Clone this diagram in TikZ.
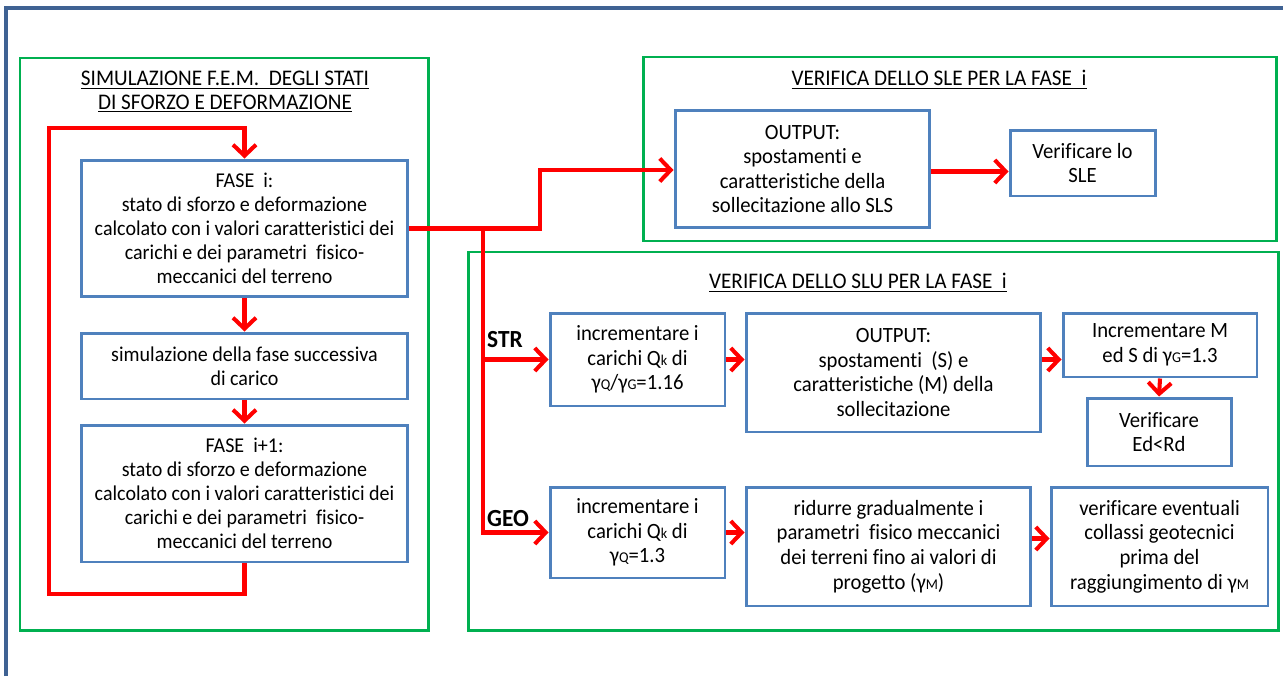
\documentclass[tikz,border=0pt]{standalone}
\usepackage{fontspec}
\setmainfont{Carlito}[FakeStretch=0.95, Ligatures=NoCommon]
\usetikzlibrary{arrows.meta,calc}
\definecolor{frameblue}{HTML}{3F6293}
\definecolor{boxblue}{HTML}{4F81BD}
\definecolor{framegreen}{HTML}{00B050}
\tikzset{
	box/.style={draw=boxblue, line width=1.7pt, align=center, inner sep=2pt, font=\fontsize{12}{13.6}\selectfont},
	rbox/.style={box, font=\fontsize{12.4}{14}\selectfont},
	frame/.style={draw=framegreen, line width=1.7pt},
	flow/.style={draw=red, line width=2.3pt},
	flowarr/.style={flow, -{Straight Barb[length=2.2mm,width=4.6mm]}},
	title/.style={align=center, font=\fontsize{12.7}{13.2}\selectfont},
	tag/.style={font=\fontsize{14}{15}\selectfont\bfseries},
}
\newcommand{\sub}[1]{{\fontsize{8.5}{9}\selectfont #1}}

\begin{document}
\begin{tikzpicture}[x=0.02cm, y=-0.02cm]
			%%%%% START %%%%%
			\useasboundingbox (0,0) rectangle (1283,676);
			
			\draw[frameblue, line width=1.8pt] (6,676) -- (6,8) -- (1283,8);
			
			% frames
			\draw[frame] (20,58) rectangle (428,630);
			\draw[frame] (643,57) rectangle (1276,241);
			\draw[frame] (468,252) rectangle (1278,630);
			
			\node[title] (simTitle) at (225,92) {\underline{SIMULAZIONE F.E.M.\ \ DEGLI STATI}\\\underline{DI SFORZO E DEFORMAZIONE}};
			\node[title] (sleTitle) at (939,80) {\underline{VERIFICA DELLO SLE PER LA FASE\ \ i}};
			\node[title] (sluTitle) at (858,283) {\underline{VERIFICA DELLO SLU PER LA FASE\ \ i}};
			
			% F.E.M. column
			\node[box, minimum width=6.54cm, minimum height=2.74cm] (faseA) at (244.5,228.5) {FASE\ \ i:\\stato di sforzo e deformazione\\calcolato con i valori caratteristici dei\\carichi e dei parametri\ \ fisico-\\meccanici del terreno};
			\node[box, minimum width=6.54cm, minimum height=1.32cm] (simul) at (244.5,366) {simulazione della fase successiva\\di carico};
			\node[box, minimum width=6.54cm, minimum height=2.74cm] (faseB) at (244.5,493.5) {FASE\ \ i+1:\\stato di sforzo e deformazione\\calcolato con i valori caratteristici dei\\carichi e dei parametri\ \ fisico-\\meccanici del terreno};
			
			% SLE
			\node[rbox, minimum width=5.1cm, minimum height=2.36cm] (outSLE) at (802.5,169) {OUTPUT:\\spostamenti e\\caratteristiche della\\sollecitazione allo SLS};
			\node[rbox, minimum width=2.9cm, minimum height=1.32cm] (verSLE) at (1082.5,163) {Verificare lo\\SLE};
			
			% SLU - STR
			\node[tag] (strLbl) at (505,340) {STR};
			\node[rbox, minimum width=3.5cm, minimum height=1.86cm] (incQs) at (637.5,359.5) {incrementare i\\carichi Q\sub{k} di\\γ\sub{Q}/γ\sub{G}=1.16};
			\node[rbox, minimum width=5.9cm, minimum height=2.38cm] (outSLU) at (893.5,372.5) {OUTPUT:\\spostamenti\ \ (S) e\\caratteristiche (M) della\\sollecitazione};
			\node[rbox, minimum width=3.88cm, minimum height=1.28cm] (incM) at (1160,345) {Incrementare M\\ed S di γ\sub{G}=1.3};
			\node[rbox, minimum width=2.88cm, minimum height=1.36cm] (verSLU) at (1159,432) {Verificare\\Ed<Rd};
			
			% SLU - GEO
			\node[tag] (geoLbl) at (508,519) {GEO};
			\node[rbox, minimum width=3.5cm, minimum height=1.82cm] (incQg) at (637.5,532.5) {incrementare i\\carichi Q\sub{k} di\\γ\sub{Q}=1.3};
			\node[rbox, minimum width=5.7cm, minimum height=2.38cm] (ridurre) at (888.5,546.5) {ridurre gradualmente i\\parametri\ \ fisico meccanici\\dei terreni fino ai valori di\\progetto (γ\sub{M})};
			\node[rbox, minimum width=4.34cm, minimum height=2.38cm] (verGEO) at (1159.5,546.5) {verificare eventuali\\collassi geotecnici\\prima del\\raggiungimento di γ\sub{M}};
			
			% loop of the phases
			\coordinate (loopBL) at (49,594);
			\coordinate (loopTL) at (49,128);
			\draw[flowarr] (faseB.south) |- (loopBL) -- (loopTL) -| (faseA.north);
			\draw[flowarr] (faseA.south) -- (simul.north);
			\draw[flowarr] (simul.south) -- (faseB.north);
			
			% branches to the checks
			\coordinate (split) at ($(faseA.east)+(74,0)$);
			\coordinate (rise) at (540,170);
			\draw[flowarr] (faseA.east) -| (rise) -- (rise -| outSLE.west);
			\draw[flowarr] (outSLE.east |- verSLE.south) ++(0,-26) coordinate (sleOut) -- (sleOut -| verSLE.west);
			\draw[flowarr] (split) |- (incQg.west);
			\draw[flowarr] (split |- incQs.west) -- (incQs.west);
			
			\draw[flowarr] (incQs.east) -- (incQs.east -| outSLU.west);
			\draw[flowarr] (incQs.east -| outSLU.east) -- (incQs.east -| incM.west);
			\draw[flowarr] (incM.south) -- (verSLU.north);
			\draw[flowarr] (incQg.east) -- (incQg.east -| ridurre.west);
			\draw[flowarr] (ridurre.east |- incQg.east) ++(0,6) coordinate (geoOut) -- (geoOut -| verGEO.west);
			
			%%%%% END %%%%%
\end{tikzpicture}
\end{document}
